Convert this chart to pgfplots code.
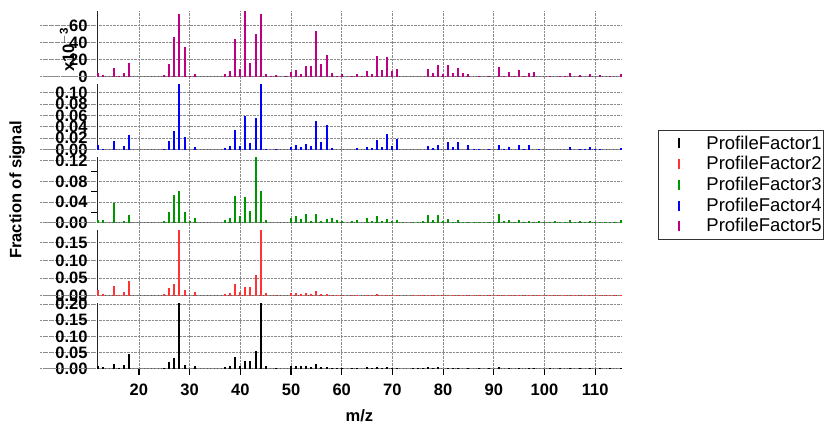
\documentclass[border=0pt]{standalone}
\usepackage{fontspec}
\setmainfont{Liberation Sans}
\usepackage{pgfplots}
\pgfplotsset{compat=1.18}

\definecolor{pf1}{RGB}{0,0,0}
\definecolor{pf2}{RGB}{255,51,51}
\definecolor{pf3}{RGB}{0,150,0}
\definecolor{pf4}{RGB}{0,0,255}
\definecolor{pf5}{RGB}{190,0,130}
\definecolor{gridc}{RGB}{140,140,140}

\newcommand{\tickfont}{\fontsize{16.5}{18}\selectfont\bfseries}

\pgfplotsset{
  panel/.style={
    anchor=south west, scale only axis,
    width=524.7pt, height=65.5pt,
    xmin=11.75, xmax=115.25, ymin=0,
    xtick=\empty,
    axis x line*=bottom, axis y line*=left,
    x axis line style={line width=1.6pt, black!65},
    y axis line style={line width=0.9pt, black!85},
    ymajorgrids,
    grid style={gridc, densely dotted, line width=0.8pt},
    tick align=outside, major tick length=57pt,
    ytick style={gridc, densely dotted, line width=0.8pt},
    extra y ticks={0}, extra y tick labels={},
    extra y tick style={tick style={black!65, solid, line width=1.6pt}},
    yticklabel style={font=\tickfont, xshift=51pt},
    /pgf/number format/assume math mode=true,
    clip mode=individual,
  },
  stick/.style={ycomb, line width=2pt, mark=none},
}

\begin{document}
\begin{tikzpicture}[x=1pt,y=1pt]
\path[use as bounding box] (0,0) rectangle (824,425);

% background axis: vertical grid, x ticks, axis titles, legend
\begin{axis}[
  name=bg, anchor=south west, at={(97.1pt,56.3pt)},
  scale only axis, width=524.7pt, height=357.5pt,
  xmin=11.75, xmax=115.25, ymin=0, ymax=1,
  axis x line*=bottom, axis y line*=left,
  x axis line style={opacity=0}, y axis line style={opacity=0},
  xtick={20,30,40,50,60,70,80,90,100,110}, xticklabels={}, ytick=\empty,
  xmajorgrids, grid style={gridc, densely dotted, line width=0.8pt},
  tick align=outside, major tick length=6pt,
  xtick style={black, line width=1.2pt},
  xlabel={m/z},
  xlabel style={font=\tickfont, at={(axis description cs:0.5,0)}, anchor=center, yshift=-47pt},
  ylabel={Fraction of signal},
  ylabel style={font=\tickfont, at={(axis description cs:-0.1525,0.5)}, anchor=center},
  legend style={at={(rel axis cs:1.069,0.6677)}, anchor=north west,
    draw=black!80, line width=0.8pt, inner xsep=2pt, inner ysep=2.7pt,
    font=\fontsize{18.5}{20.7}\selectfont,
    nodes={inner sep=0pt, text height=16pt, text depth=4.7pt},
    column sep=0pt, row sep=0pt},
  legend cell align=left,
  legend image code/.code={\path[draw=none] (0pt,0pt) -- (46pt,0pt);
    \draw[#1, line width=2pt] (19pt,-5pt) -- (19pt,5pt);},
]
\addlegendimage{pf1}\addlegendentry{ProfileFactor1}
\addlegendimage{pf2}\addlegendentry{ProfileFactor2}
\addlegendimage{pf3}\addlegendentry{ProfileFactor3}
\addlegendimage{pf4}\addlegendentry{ProfileFactor4}
\addlegendimage{pf5}\addlegendentry{ProfileFactor5}
\end{axis}

% x tick labels
\begin{axis}[
  anchor=south west, at={(97.1pt,56.3pt)},
  scale only axis, width=524.7pt, height=10pt,
  xmin=11.75, xmax=115.25, ymin=0, ymax=1,
  axis x line*=bottom, axis y line=none,
  x axis line style={draw=none},
  xtick={20,30,40,50,60,70,80,90,100,110}, ytick=\empty,
  xtick style={draw=none}, tick align=inside, major tick length=0pt,
  xticklabel style={font=\tickfont, yshift=-11.5pt},
  /pgf/number format/assume math mode=true,
]
\end{axis}

% panel 1 (black)
\begin{axis}[panel, at={(97.1pt,56.3pt)}, ymax=0.2025,
  ytick={0,0.05,...,0.20},
  yticklabel style={/pgf/number format/.cd, fixed, fixed zerofill, precision=2}]
\addplot[stick, pf1] coordinates {
(12,0.009) (13,0.004) (15,0.016) (16,0.002) (17,0.011) (18,0.045)
(25,0.003) (26,0.021) (27,0.034) (28,0.21) (29,0.010) (31,0.008)
(37,0.005) (38,0.008) (39,0.036) (40,0.009) (41,0.024) (42,0.024)
(43,0.055) (44,0.21) (45,0.008) (47,0.003)
(50,0.007) (51,0.009) (52,0.007) (53,0.009) (54,0.006) (55,0.013)
(56,0.006) (57,0.005) (58,0.003) (59,0.002) (60,0.002) (62,0.002)
(63,0.003) (65,0.004) (66,0.003) (67,0.005) (68,0.003) (69,0.004)
(70,0.002) (71,0.003) (74,0.002) (75,0.002) (76,0.002) (77,0.004)
(78,0.003) (79,0.004) (81,0.003) (82,0.002) (83,0.003) (85,0.002)
(87,0.002) (89,0.002) (91,0.004) (93,0.002) (95,0.002) (97,0.002)
(98,0.002) (101,0.002) (103,0.002) (105,0.002) (107,0.002) (109,0.002)
(111,0.002) (113,0.002) (115,0.002)};
\end{axis}

% panel 2 (red)
\begin{axis}[panel, at={(97.1pt,129.3pt)}, ymax=0.1854,
  ytick={0,0.05,...,0.15},
  yticklabel style={/pgf/number format/.cd, fixed, fixed zerofill, precision=2}]
\addplot[stick, pf2] coordinates {
(12,0.016) (13,0.006) (15,0.027) (16,0.002) (17,0.010) (18,0.042)
(25,0.005) (26,0.021) (27,0.033) (28,0.19) (29,0.015) (31,0.010)
(37,0.005) (38,0.008) (39,0.033) (40,0.010) (41,0.024) (42,0.025)
(43,0.058) (44,0.19) (45,0.008) (47,0.002)
(50,0.008) (51,0.008) (52,0.005) (53,0.009) (54,0.005) (55,0.013)
(56,0.005) (57,0.005) (58,0.003) (59,0.002) (60,0.002) (62,0.002)
(63,0.002) (65,0.003) (66,0.002) (67,0.004) (68,0.002) (69,0.003)
(70,0.002) (71,0.002) (74,0.002) (75,0.002) (76,0.002) (77,0.003)
(78,0.002) (79,0.003) (80,0.002) (81,0.002) (82,0.002) (83,0.002)
(84,0.002) (85,0.002) (86,0.002) (87,0.002) (88,0.002) (89,0.002)
(90,0.002) (91,0.003) (92,0.002) (93,0.002) (94,0.002) (95,0.002)
(96,0.002) (97,0.002) (98,0.002) (99,0.002) (100,0.002) (101,0.002)
(102,0.002) (103,0.002) (104,0.002) (105,0.002) (106,0.002) (107,0.002)
(108,0.002) (109,0.002) (110,0.002) (111,0.002) (112,0.002) (113,0.002)
(114,0.002) (115,0.002)};
\end{axis}

% panel 3 (green)
\begin{axis}[panel, at={(97.1pt,202.3pt)}, ymax=0.1268,
  ytick={0,0.04,...,0.12},
  minor y tick num=1, minor tick length=6pt,
  minor y tick style={black, solid, line width=0.8pt},
  yticklabel style={/pgf/number format/.cd, fixed, fixed zerofill, precision=2}]
\addplot[stick, pf3] coordinates {
(12,0.006) (13,0.005) (15,0.039) (17,0.004) (18,0.014)
(25,0.003) (26,0.020) (27,0.053) (28,0.062) (29,0.021) (30,0.003) (31,0.010)
(37,0.005) (38,0.010) (39,0.052) (40,0.013) (41,0.050) (42,0.023)
(43,0.13) (44,0.062) (45,0.005)
(50,0.009) (51,0.013) (52,0.007) (53,0.016) (54,0.004) (55,0.017)
(56,0.004) (57,0.007) (58,0.010) (59,0.005) (60,0.003) (62,0.003)
(63,0.006) (65,0.010) (66,0.004) (67,0.013) (68,0.004) (69,0.007)
(70,0.004) (71,0.006) (72,0.002) (74,0.002) (75,0.002) (76,0.003)
(77,0.015) (78,0.005) (79,0.014) (80,0.003) (81,0.007) (82,0.002)
(83,0.005) (84,0.002) (85,0.002) (86,0.002) (87,0.002) (88,0.002)
(89,0.002) (90,0.002) (91,0.017) (92,0.003) (93,0.006) (94,0.002)
(95,0.005) (96,0.002) (97,0.003) (98,0.002) (99,0.003) (100,0.002)
(101,0.002) (102,0.003) (103,0.002) (104,0.002) (105,0.005) (106,0.002)
(107,0.003) (108,0.002) (109,0.003) (110,0.002) (111,0.002) (112,0.002)
(113,0.002) (114,0.002) (115,0.005)};
\end{axis}

% panel 4 (blue)
\begin{axis}[panel, at={(97.1pt,275.3pt)}, ymax=0.1149,
  ytick={0,0.02,...,0.10},
  yticklabel style={/pgf/number format/.cd, fixed, fixed zerofill, precision=2}]
\addplot[stick, pf4] coordinates {
(12,0.008) (13,0.002) (15,0.015) (17,0.006) (18,0.026)
(25,0.002) (26,0.015) (27,0.033) (28,0.12) (29,0.023) (31,0.004)
(37,0.003) (38,0.006) (39,0.035) (40,0.007) (41,0.059) (42,0.012)
(43,0.056) (44,0.12) (45,0.002) (47,0.001)
(50,0.005) (51,0.008) (52,0.004) (53,0.010) (54,0.006) (55,0.050)
(56,0.014) (57,0.044) (58,0.003) (63,0.003) (65,0.005) (66,0.003)
(67,0.017) (68,0.005) (69,0.027) (70,0.007) (71,0.018)
(77,0.006) (78,0.003) (79,0.009) (81,0.013) (82,0.004) (83,0.013)
(85,0.008) (86,0.001) (87,0.001) (89,0.001) (91,0.008) (92,0.001) (93,0.004)
(95,0.008) (96,0.001) (97,0.008) (99,0.001) (105,0.004) (107,0.002)
(108,0.002) (109,0.004) (110,0.001) (111,0.002) (115,0.003)};
\end{axis}

% panel 5 (magenta), values in units of 1e-3
\begin{axis}[panel, at={(97.1pt,348.3pt)}, ymax=76.5,
  ytick={0,20,40,60}]
\addplot[stick, pf5] coordinates {
(12,4.7) (13,1.6) (15,10.1) (16,0.4) (17,4.3) (18,16.4)
(25,2.0) (26,14.8) (27,46.8) (28,73.7) (29,34.3) (30,0.8) (31,3.1)
(37,3.5) (38,6.6) (39,44.0) (40,9.4) (41,78) (42,15.6)
(43,49.5) (44,73.7) (45,3.1) (46,0.8) (47,1.6) (49,0.5)
(50,5.1) (51,7.4) (52,3.5) (53,12.5) (54,12.1) (55,53.4)
(56,14.8) (57,25.7) (58,3.9) (59,0.8) (60,3.1) (62,0.8)
(63,3.1) (64,1.2) (65,6.2) (66,3.1) (67,24.6) (68,7.4)
(69,22.6) (70,6.2) (71,9.0) (77,9.0) (78,3.9) (79,13.3)
(80,3.1) (81,13.6) (82,4.3) (83,9.7) (84,3.9) (85,3.5)
(87,0.5) (89,1.2) (91,11.3) (92,1.2) (93,5.5) (94,1.2)
(95,7.8) (96,1.2) (97,4.3) (98,5.5) (101,0.5) (103,1.2)
(104,0.8) (105,3.9) (107,2.0) (109,3.1) (111,1.6) (113,0.5) (115,3.5)};
\node[rotate=90, font=\tickfont, anchor=center]
  at (rel axis cs:-0.0574,0.41) {x10$^{\mathbf{-3}}$};
\end{axis}
\end{tikzpicture}
\end{document}
